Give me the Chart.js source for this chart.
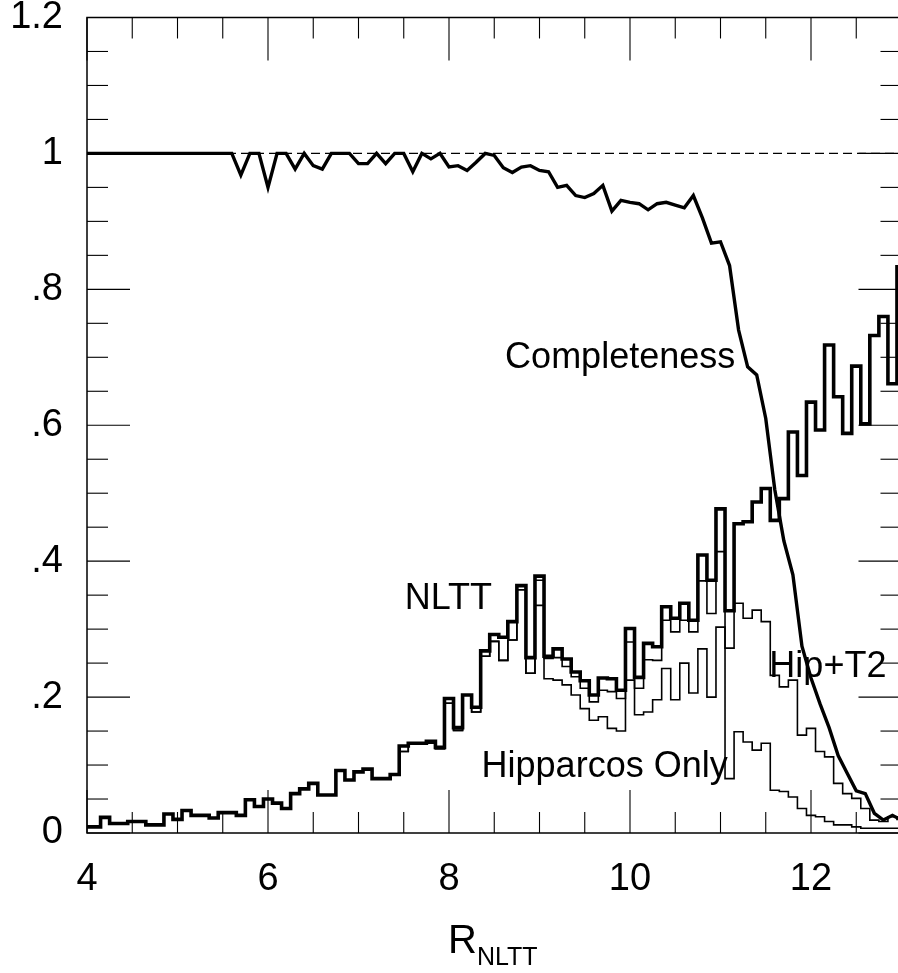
<!DOCTYPE html>
<html>
<head>
<meta charset="utf-8">
<script src="https://cdn.jsdelivr.net/npm/chart.js@4.4.1/dist/chart.umd.min.js"></script>
<style>
  html, body { margin: 0; padding: 0; background: #fff; overflow: hidden; }
  #wrap { position: relative; width: 910px; height: 973px; }
</style>
</head>
<body>
<div id="wrap"><canvas id="chart" width="910" height="973"></canvas></div>
<script>
// bin centres (R_NLTT)
const binCenters = [
  4.0, 4.1, 4.2, 4.3, 4.4, 4.5, 4.6, 4.7, 4.8, 4.9,
  5.0, 5.1, 5.2, 5.3, 5.4, 5.5, 5.6, 5.7, 5.8, 5.9,
  6.0, 6.1, 6.2, 6.3, 6.4, 6.5, 6.6, 6.7, 6.8, 6.9,
  7.0, 7.1, 7.2, 7.3, 7.4, 7.5, 7.6, 7.7, 7.8, 7.9,
  8.0, 8.1, 8.2, 8.3, 8.4, 8.5, 8.6, 8.7, 8.8, 8.9,
  9.0, 9.1, 9.2, 9.3, 9.4, 9.5, 9.6, 9.7, 9.8, 9.9,
  10.0, 10.1, 10.2, 10.3, 10.4, 10.5, 10.6, 10.7, 10.8, 10.9,
  11.0, 11.1, 11.2, 11.3, 11.4, 11.5, 11.6, 11.7, 11.8, 11.9,
  12.0, 12.1, 12.2, 12.3, 12.4, 12.5, 12.6, 12.7, 12.8, 12.9, 13.0
];

// NLTT histogram (thick)
const nltt = [
  .009, .009, .023, .014, .014, .017, .017, .012, .012, .028,
  .020, .033, .026, .026, .022, .030, .030, .026, .049, .039,
  .050, .044, .036, .058, .065, .073, .056, .056, .092, .078,
  .090, .094, .080, .080, .086, .128, .132, .132, .135, .126,
  .198, .155, .203, .185, .268, .292, .288, .311, .364, .258,
  .378, .260, .271, .256, .237, .224, .203, .228, .227, .210,
  .301, .229, .279, .274, .333, .316, .338, .313, .409, .372,
  .477, .327, .455, .458, .487, .507, .460, .492, .590, .526,
  .634, .593, .718, .642, .588, .687, .602, .732, .760, .661, .833
];

// Hip+T2 histogram (thin)
const hipT2 = [
  .009, .009, .023, .014, .014, .017, .017, .012, .012, .028,
  .020, .033, .026, .026, .022, .030, .030, .026, .049, .039,
  .050, .044, .036, .058, .065, .073, .056, .056, .092, .078,
  .090, .094, .080, .080, .086, .120, .132, .132, .132, .124,
  .191, .151, .203, .178, .260, .282, .254, .284, .358, .235,
  .372, .257, .258, .245, .230, .213, .193, .210, .208, .198,
  .281, .213, .255, .254, .313, .296, .313, .296, .371, .323,
  .414, .272, .338, .316, .328, .311, .232, .215, .225, .144,
  .154, .120, .112, .073, .058, .051, .036, .019, .017, .024, .020
];

// Hipparcos only histogram (thin)
const hipOnly = [
  .009, .009, .023, .014, .014, .017, .017, .012, .012, .028,
  .020, .033, .026, .026, .022, .030, .030, .026, .049, .039,
  .050, .044, .036, .058, .065, .073, .056, .056, .092, .078,
  .090, .094, .080, .080, .086, .120, .132, .132, .132, .124,
  .191, .151, .203, .178, .260, .282, .254, .284, .358, .235,
  .335, .227, .225, .218, .203, .183, .166, .171, .154, .150,
  .225, .174, .178, .196, .242, .196, .250, .206, .271, .200,
  .303, .080, .149, .134, .122, .132, .063, .061, .053, .036,
  .026, .024, .017, .012, .012, .009, .007, .007, .007, .007, .007
];

// completeness curve
const completeness = [
  1, 1, 1, 1, 1, 1, 1, 1, 1, 1,
  1, 1, 1, 1, 1, 1, 1, .968, 1, 1,
  .950, 1, 1, .977, 1, .982, .977, 1, 1, 1,
  .985, .985, 1, .985, 1, 1, .973, 1, .992, 1,
  .980, .982, .975, .987, 1, .997, .979, .972, .980, .982,
  .975, .973, .950, .953, .938, .935, .941, .953, .915, .931,
  .928, .926, .917, .926, .928, .924, .920, .938, .905, .868,
  .870, .835, .740, .686, .674, .610, .505, .430, .380, .275,
  .228, .190, .155, .114, .088, .062, .058, .029, .019, .026, .019
];

const refLineX = [4, 13];
const refLineY = [1, 1];

// axis ticks
const xTickValues = [4, 6, 8, 10, 12];
const xTickLabels = ['4', '6', '8', '10', '12'];
const xMinorTicks = [4.5, 5, 5.5, 6.5, 7, 7.5, 8.5, 9, 9.5, 10.5, 11, 11.5, 12.5];
const yTickValues = [0, 0.2, 0.4, 0.6, 0.8, 1, 1.2];
const yTickLabels = ['0', '.2', '.4', '.6', '.8', '1', '1.2'];
const yMinorTicks = [0.05, 0.1, 0.15, 0.25, 0.3, 0.35, 0.45, 0.5, 0.55, 0.65, 0.7, 0.75,
  0.85, 0.9, 0.95, 1.05, 1.1, 1.15];

// curve labels (data coords)
const curveLabels = [
  { text: 'Completeness', x: 8.62, y: 0.684 },
  { text: 'NLTT', x: 7.51, y: 0.330 },
  { text: 'Hip+T2', x: 11.54, y: 0.230 },
  { text: 'Hipparcos Only', x: 8.36, y: 0.082 }
];

const FONT = '"Liberation Sans", Arial, Helvetica, sans-serif';
const toPts = (ys) => ys.map((v, i) => ({ x: binCenters[i], y: v }));

// frame, inward ticks, labels, axis title
const framePlugin = {
  id: 'frame',
  afterDatasetsDraw(chart) {
    const { ctx, chartArea: a, scales: { x, y } } = chart;
    const seg = (x1, y1, x2, y2) => { ctx.beginPath(); ctx.moveTo(x1, y1); ctx.lineTo(x2, y2); ctx.stroke(); };
    ctx.save();
    ctx.strokeStyle = '#000';
    ctx.lineWidth = 1.1;
    const MAJ = 43, MIN = 21;
    xTickValues.concat(xMinorTicks).forEach(v => {
      const px = x.getPixelForValue(v);
      const len = xTickValues.includes(v) ? MAJ : MIN;
      seg(px, a.bottom, px, a.bottom - len);
      seg(px, a.top, px, a.top + len);
    });
    yTickValues.concat(yMinorTicks).forEach(v => {
      const py = y.getPixelForValue(v);
      const len = yTickValues.includes(v) ? MAJ : MIN;
      seg(a.left, py, a.left + len, py);
      seg(a.right, py, a.right - len, py);
    });
    ctx.lineWidth = 1.5;
    ctx.strokeRect(a.left, a.top, a.right - a.left, a.bottom - a.top);

    ctx.fillStyle = '#000';
    ctx.textAlign = 'left';
    ctx.textBaseline = 'alphabetic';
    ctx.font = '36px ' + FONT;
    curveLabels.forEach(l => {
      ctx.fillText(l.text, x.getPixelForValue(l.x), y.getPixelForValue(l.y));
    });

    // R_NLTT
    ctx.font = '40px ' + FONT;
    ctx.fillText('R', 448, 953);
    ctx.font = '25px ' + FONT;
    ctx.fillText('NLTT', 477, 965);
    ctx.restore();
  }
};

const thin = { borderColor: '#000', borderWidth: 1.6, pointRadius: 0, fill: false, stepped: 'middle' };

new Chart(document.getElementById('chart'), {
  type: 'line',
  data: {
    datasets: [
      { ...thin, label: 'Hipparcos Only', data: toPts(hipOnly), order: 4 },
      { ...thin, label: 'Hip+T2', data: toPts(hipT2), order: 3 },
      {
        label: 'ref', data: refLineX.map((v, i) => ({ x: v, y: refLineY[i] })),
        borderColor: '#000', borderWidth: 1.3, borderDash: [9, 5], pointRadius: 0, fill: false, order: 5
      },
      {
        label: 'NLTT', data: toPts(nltt), borderColor: '#000', borderWidth: 3.6,
        pointRadius: 0, fill: false, stepped: 'middle', order: 2
      },
      {
        label: 'Completeness', data: toPts(completeness), borderColor: '#000', borderWidth: 3.4,
        pointRadius: 0, fill: false, tension: 0, order: 1
      }
    ]
  },
  options: {
    responsive: false,
    animation: false,
    events: [],
    layout: { padding: { top: 17.5, right: 8.5, left: 0, bottom: 0 } },
    plugins: { legend: { display: false }, tooltip: { enabled: false } },
    scales: {
      x: {
        type: 'linear', min: 4, max: 13,
        grid: { display: false, drawTicks: false },
        border: { display: false },
        afterBuildTicks: (s) => { s.ticks = xTickValues.map(v => ({ value: v })); },
        afterFit: (s) => { s.height = 140; s.paddingLeft = 0; s.paddingRight = 0; },
        ticks: {
          padding: 24, color: '#000', maxRotation: 0, autoSkip: false,
          font: { family: FONT, size: 38 },
          callback: (v) => xTickLabels[xTickValues.indexOf(v)]
        }
      },
      y: {
        type: 'linear', min: 0, max: 1.2,
        grid: { display: false, drawTicks: false },
        border: { display: false },
        afterBuildTicks: (s) => { s.ticks = yTickValues.map(v => ({ value: v })); },
        afterFit: (s) => { s.width = 87; s.paddingTop = 0; s.paddingBottom = 0; },
        ticks: {
          padding: 24, color: '#000', autoSkip: false,
          font: { family: FONT, size: 38 },
          callback: (v) => yTickLabels[yTickValues.indexOf(v)]
        }
      }
    }
  },
  plugins: [framePlugin]
});
</script>
</body>
</html>
